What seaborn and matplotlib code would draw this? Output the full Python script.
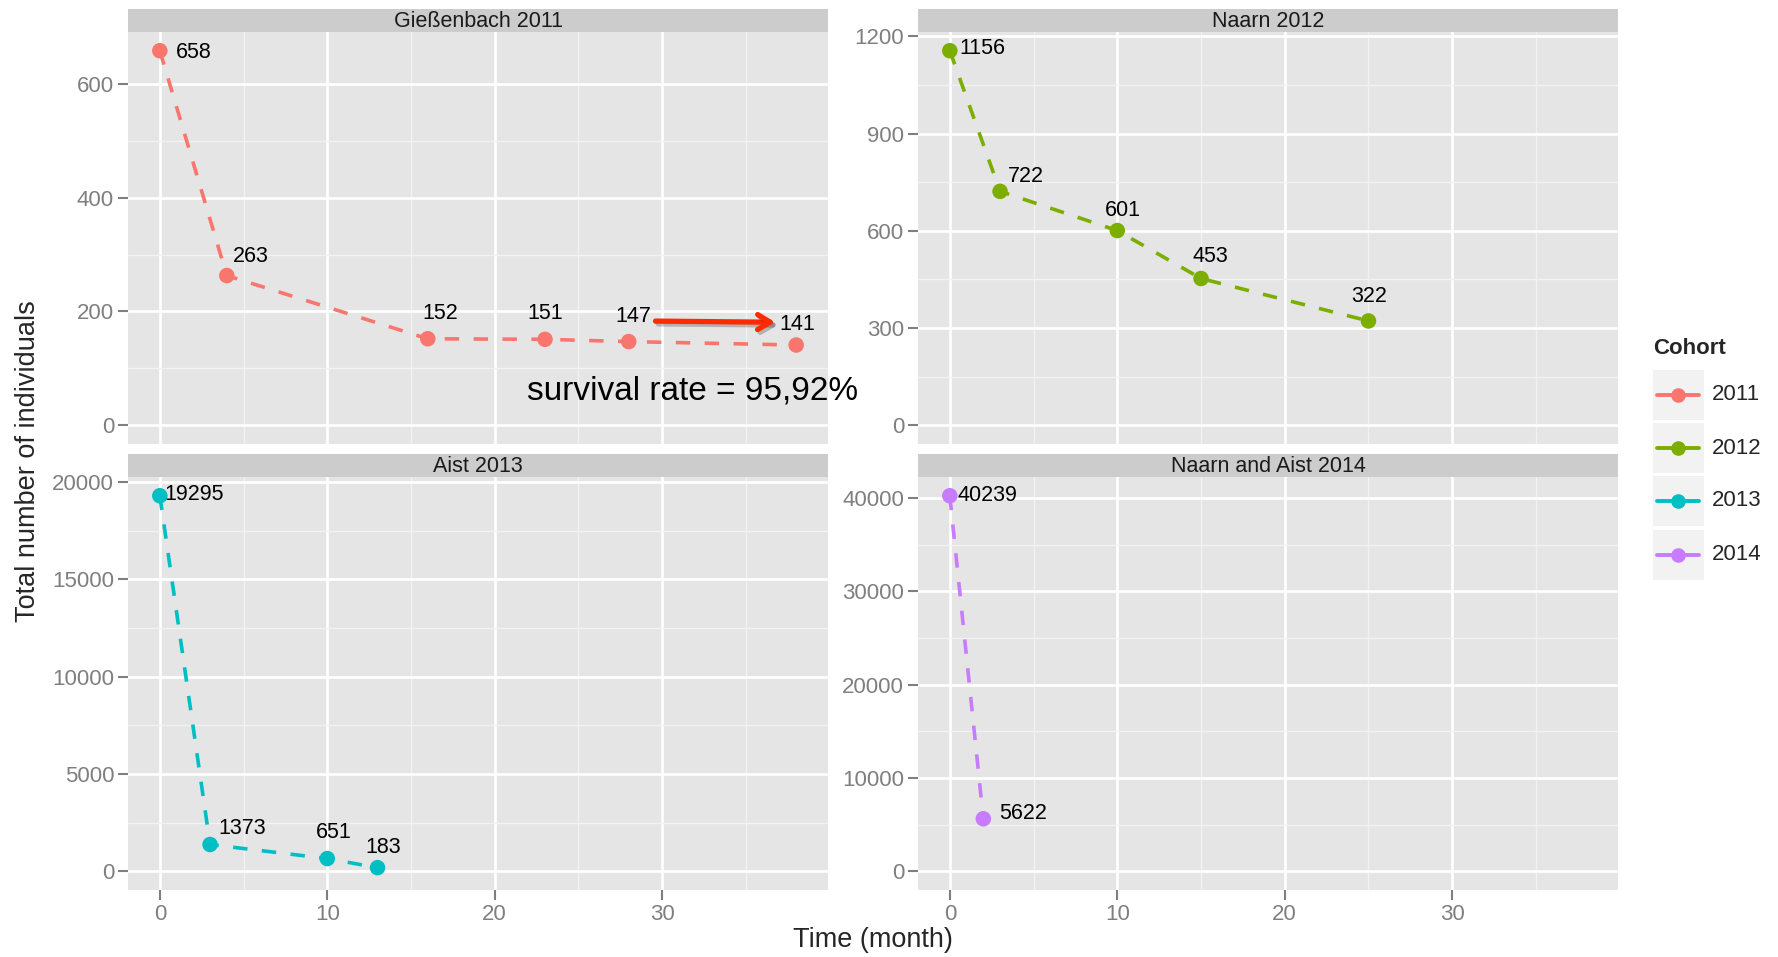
import numpy as np
import pandas as pd
import matplotlib
matplotlib.use("Agg")
import matplotlib.pyplot as plt
import seaborn as sns
from matplotlib.patches import Rectangle
from matplotlib.lines import Line2D
import matplotlib.patheffects as pe

# ---------------- data ----------------
cohorts = ["2011", "2012", "2013", "2014"]
panel_titles = ["Gießenbach 2011", "Naarn 2012", "Aist 2013", "Naarn and Aist 2014"]

time_2011 = [0, 4, 16, 23, 28, 38]
n_2011 = [658, 263, 152, 151, 147, 141]
time_2012 = [0, 3, 10, 15, 25]
n_2012 = [1156, 722, 601, 453, 322]
time_2013 = [0, 3, 10, 13]
n_2013 = [19295, 1373, 651, 183]
time_2014 = [0, 2]
n_2014 = [40239, 5622]

x_ticks = [0, 10, 20, 30]
y_ticks_2011 = [0, 200, 400, 600]
y_ticks_2012 = [0, 300, 600, 900, 1200]
y_ticks_2013 = [0, 5000, 10000, 15000, 20000]
y_ticks_2014 = [0, 10000, 20000, 30000, 40000]

annotation_text = "survival rate = 95,92%"

colors = ["#F8766D", "#7CAE00", "#00BFC4", "#C77CFF"]

times = [time_2011, time_2012, time_2013, time_2014]
counts = [n_2011, n_2012, n_2013, n_2014]
yticks_all = [y_ticks_2011, y_ticks_2012, y_ticks_2013, y_ticks_2014]

df = pd.concat(
    [pd.DataFrame({"time": t, "n": n, "cohort": c}) for t, n, c in zip(times, counts, cohorts)],
    ignore_index=True,
)

# label offsets (pixels) and alignment, per point
label_layout = [
    [("left", 16, -2), ("left", 6, 19), ("center", 12, 25), ("center", 0, 26), ("center", 5, 25), ("center", 1, 21)],
    [("left", 10, 2), ("left", 8, 15), ("center", 6, 20), ("center", 9, 22), ("center", 1, 24)],
    [("left", 5, 1), ("left", 8, 16), ("center", 6, 26), ("center", 6, 20)],
    [("left", 8, 0), ("left", 16, 5)],
]

# ---------------- style ----------------
sns.set_theme(style="darkgrid", rc={"axes.facecolor": "#E5E5E5", "grid.color": "white"})
plt.rcParams["font.family"] = ["Liberation Sans", "DejaVu Sans"]

W, H = 1778, 957
fig = plt.figure(figsize=(W / 100, H / 100), dpi=100)
fig.patch.set_facecolor("white")

def rect(x0, y0, x1, y1):
    return [x0 / W, 1 - y1 / H, (x1 - x0) / W, (y1 - y0) / H]

panel_px = [
    (128, 32, 828, 444),
    (918, 32, 1618, 444),
    (128, 477, 828, 890),
    (918, 477, 1618, 890),
]
strip_h = 23

all_t = df["time"]
xr = all_t.max() - all_t.min()
xlim = (all_t.min() - 0.05 * xr, all_t.max() + 0.05 * xr)

axes = []
for i, (c, col) in enumerate(zip(cohorts, colors)):
    x0, y0, x1, y1 = panel_px[i]
    ax = fig.add_axes(rect(x0, y0, x1, y1))
    axes.append(ax)
    sub = df[df["cohort"] == c]
    sns.lineplot(data=sub, x="time", y="n", color=col, lw=2.6, errorbar=None,
                 linestyle=(0, (4, 4)), ax=ax, legend=False)
    sns.scatterplot(data=sub, x="time", y="n", color=col, s=125, edgecolor="none",
                    ax=ax, legend=False, zorder=3)
    ax.set_xticks(x_ticks)
    ax.set_xticks([v + 5 for v in x_ticks], minor=True)
    yt = yticks_all[i]
    ax.set_yticks(yt)
    step = yt[1] - yt[0]
    ax.set_yticks([v + step / 2 for v in yt], minor=True)
    ylo = min(0, sub["n"].min())
    yr = sub["n"].max() - ylo
    ax.set_ylim(ylo - 0.05 * yr, sub["n"].max() + 0.05 * yr)
    ax.set_xlim(*xlim)
    ax.grid(which="major", color="white", lw=1.9)
    ax.grid(which="minor", color="#F2F2F2", lw=1.0)
    ax.set_axisbelow(True)
    for s in ax.spines.values():
        s.set_visible(False)
    ax.set_xlabel("")
    ax.set_ylabel("")
    ax.tick_params(which="major", left=True, length=7, width=1.5, color="#7F7F7F",
                   labelcolor="#7F7F7F", labelsize=16, pad=3)
    ax.tick_params(which="minor", length=0)
    if i < 2:
        ax.tick_params(axis="x", bottom=False, labelbottom=False)
    else:
        ax.tick_params(axis="x", bottom=True, labelbottom=True)

    # value labels
    for (tt, nn), (ha, dx, dy) in zip(zip(sub["time"], sub["n"]), label_layout[i]):
        ax.annotate(str(nn), xy=(tt, nn), xytext=(dx, dy), textcoords="offset pixels",
                    ha=ha, va="center", fontsize=15.5, color="black",
                    annotation_clip=False, zorder=4)

    # strip
    sax = fig.add_axes(rect(x0, y0 - strip_h, x1, y0))
    sax.set_facecolor("#CCCCCC")
    sax.set_xticks([])
    sax.set_yticks([])
    sax.grid(False)
    for s in sax.spines.values():
        s.set_visible(False)
    sax.text(0.5, 0.45, panel_titles[i], ha="center", va="center", fontsize=15.5,
             color="#1A1A1A", transform=sax.transAxes)

# arrow and annotation in first panel
ax0 = axes[0]
ax0.annotate("", xy=(36.75, 181), xytext=(29.6, 183),
             arrowprops=dict(arrowstyle="->,head_length=0.75,head_width=0.45",
                             color="#FF2A00", lw=3.8, shrinkA=0, shrinkB=0,
                             path_effects=[pe.SimpleLineShadow(offset=(2, -2), alpha=0.25), pe.Normal()]),
             annotation_clip=False, zorder=5)
ax0.text(21.94, 60, annotation_text, ha="left", va="center", fontsize=24,
         color="black", clip_on=False, zorder=5)

# axis titles
fig.text(873 / W, 1 - 940 / H, "Time (month)", ha="center", va="center", fontsize=19.5)
fig.text(28 / W, 1 - 461 / H, "Total number of individuals", ha="center", va="center",
         rotation=90, fontsize=19.5)

# legend (manual ggplot-like)
fig.text(1653 / W, 1 - 349 / H, "Cohort", ha="left", va="center", fontsize=16,
         fontweight="bold")
key_tops = [370, 423, 476, 530]
for top, c, col in zip(key_tops, cohorts, colors):
    fig.add_artist(Rectangle((1653 / W, 1 - (top + 50) / H), 51 / W, 50 / H,
                             transform=fig.transFigure, facecolor="#F2F2F2",
                             edgecolor="none"))
    yc = 1 - (top + 25) / H
    fig.add_artist(Line2D([1657 / W, 1699 / W], [yc, yc], transform=fig.transFigure,
                          color=col, lw=2.8))
    fig.add_artist(Line2D([1678 / W], [yc], transform=fig.transFigure, color=col,
                          marker="o", markersize=10.5, markeredgewidth=0, lw=0))
    fig.text(1712 / W, yc, c, ha="left", va="center", fontsize=16)

fig.savefig("out.png", dpi=100)
